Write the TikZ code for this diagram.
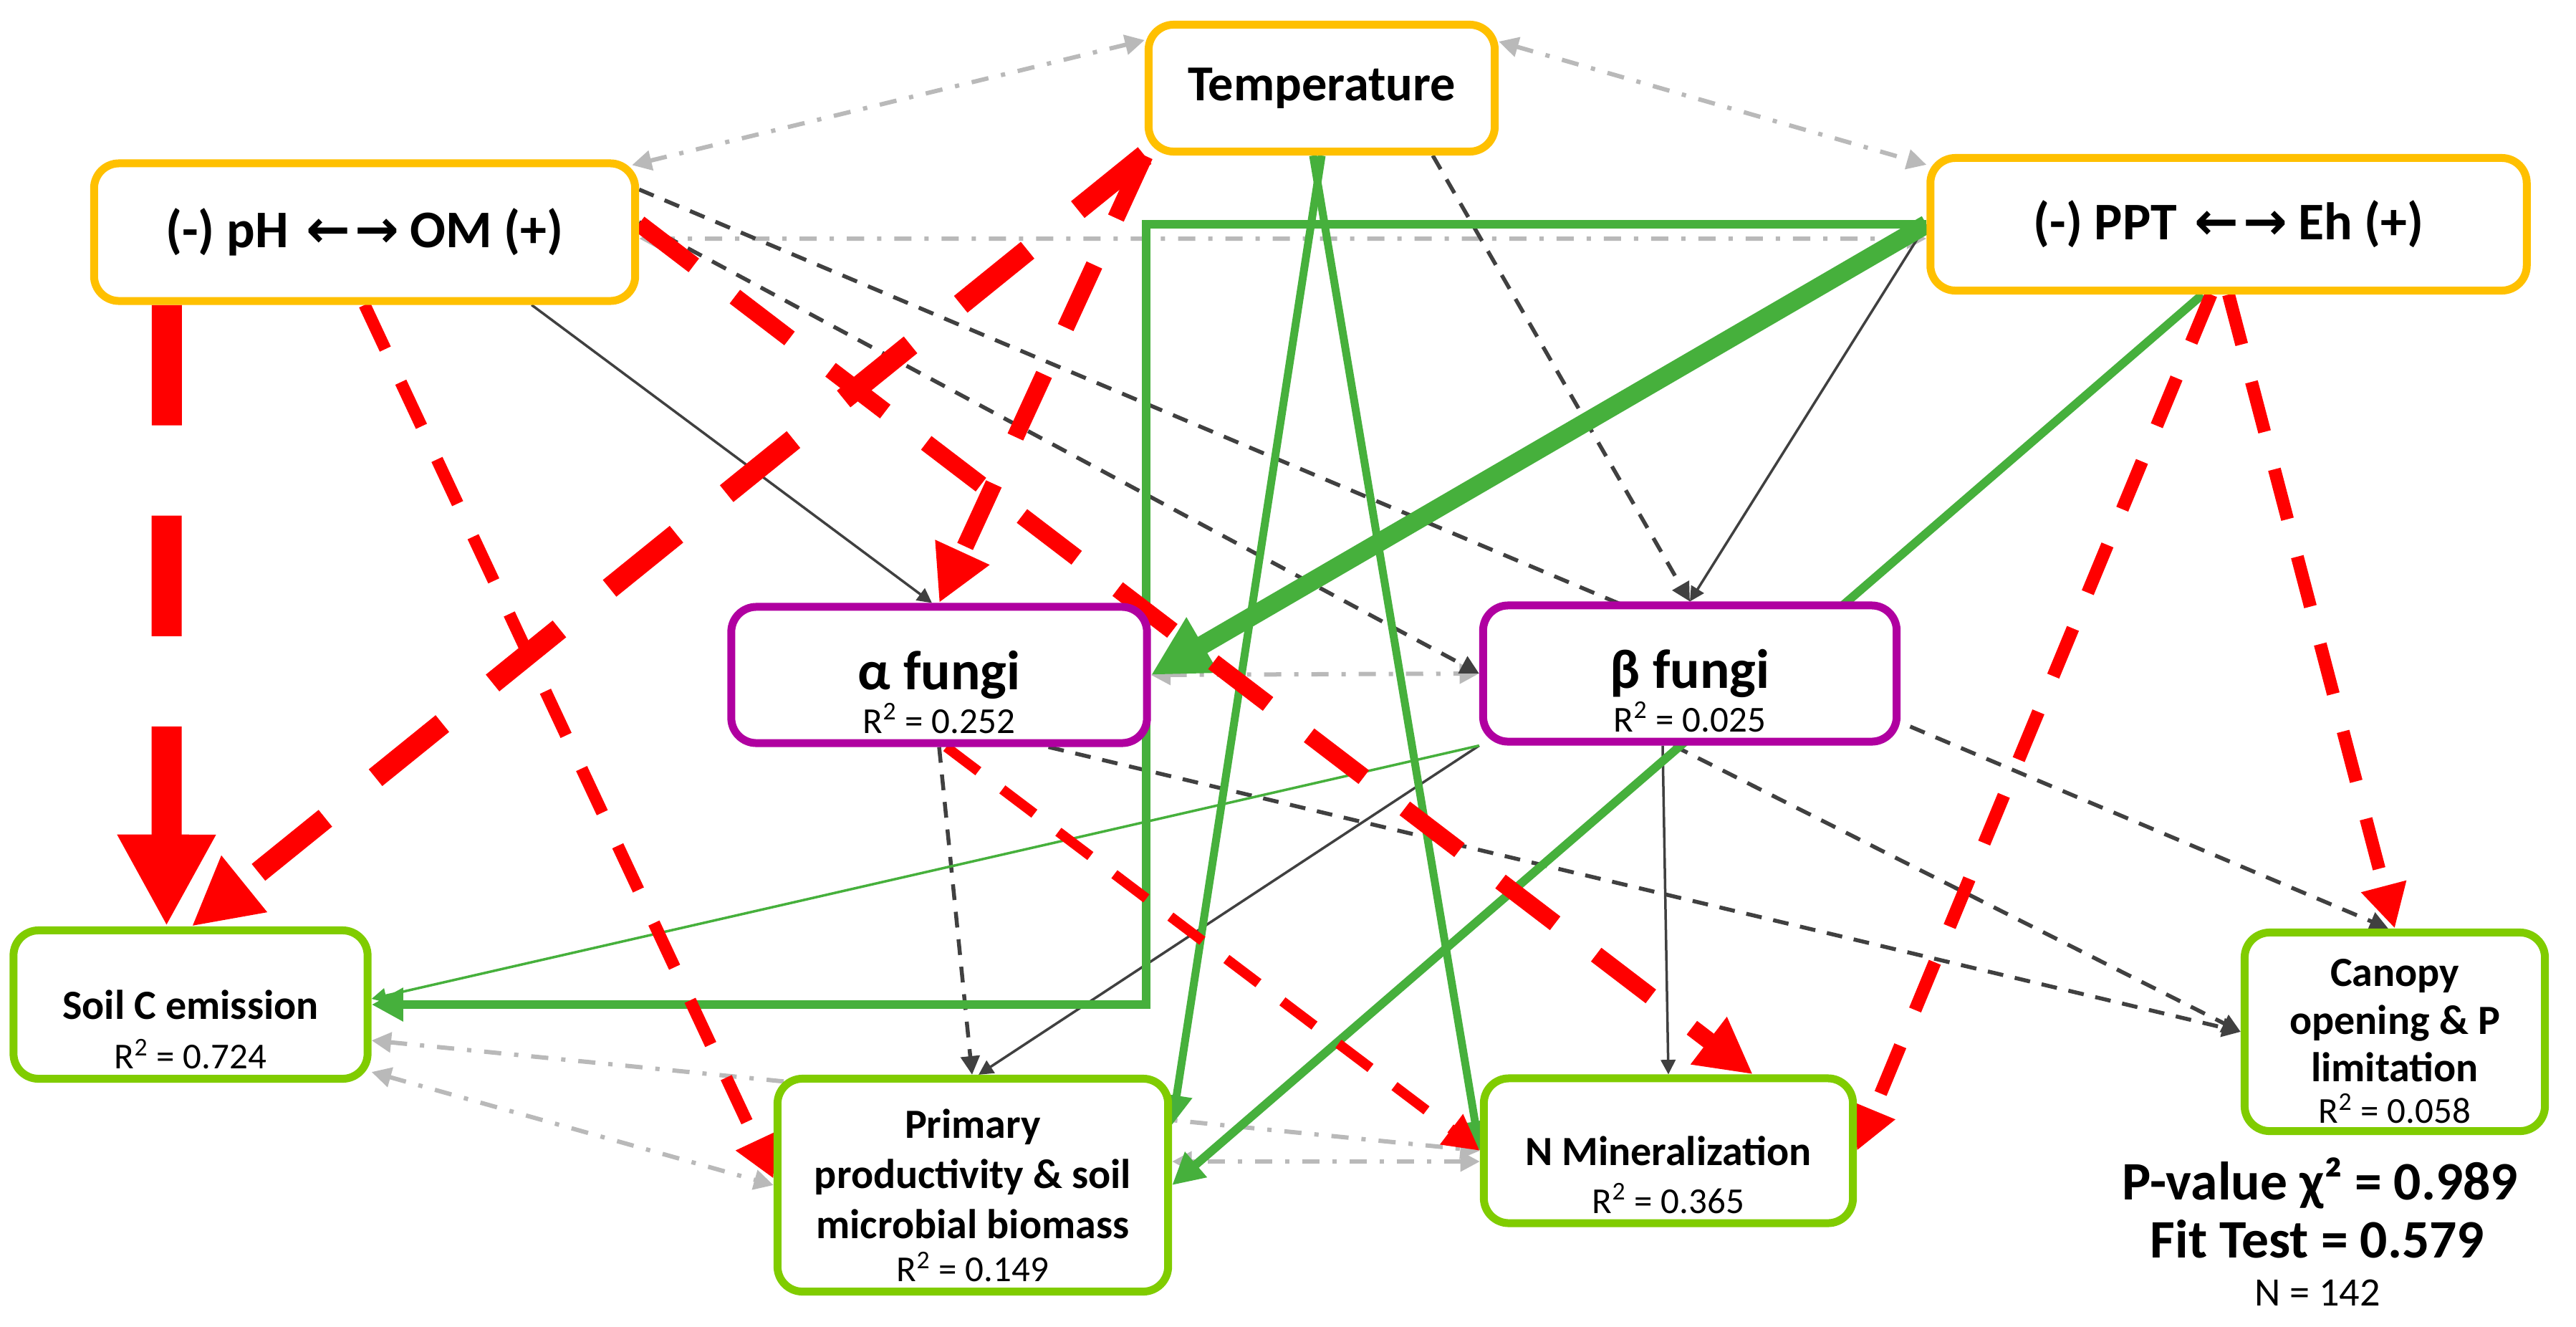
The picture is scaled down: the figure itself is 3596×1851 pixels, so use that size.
\documentclass[tikz,border=0pt]{standalone}
\usepackage{fontspec}
\setmainfont{Carlito}
\newfontfamily\arrowfont{DejaVu Sans}
\usepackage{tikz}
\usetikzlibrary{arrows.meta,positioning,backgrounds}

\definecolor{boxyellow}{RGB}{255,192,0}
\definecolor{boxpurple}{RGB}{176,0,160}
\definecolor{boxgreen}{RGB}{128,204,0}
\definecolor{posgreen}{RGB}{70,176,60}
\definecolor{negred}{RGB}{255,0,0}
\definecolor{darkline}{RGB}{64,64,64}
\definecolor{covgray}{RGB}{185,185,185}

\newcommand{\hdfont}{\bfseries\fontsize{20pt}{24pt}\selectfont}
\newcommand{\drfont}{\bfseries\fontsize{21pt}{25pt}\selectfont}
\newcommand{\fgfont}{\bfseries\fontsize{22pt}{26pt}\selectfont}
\newcommand{\pcfont}{\bfseries\fontsize{16.5pt}{19.9pt}\selectfont}
\newcommand{\rsqfont}{\fontsize{14.5pt}{17pt}\selectfont}
\newcommand{\statfont}{\bfseries\fontsize{21.5pt}{26pt}\selectfont}
\newcommand{\nobsfont}{\fontsize{16pt}{19pt}\selectfont}
\newcommand{\bothways}{\hspace{0.25cm}{\arrowfont ←\hspace{0.06cm}→}\hspace{0.15cm}}

\tikzstyle{nodebox}=[rectangle, rounded corners=0.35cm, line width=0.11cm, fill=white, align=center, inner sep=0pt]
\tikzstyle{driver}=[nodebox, draw=boxyellow, font=\drfont]
\tikzstyle{fungi}=[nodebox, draw=boxpurple, font=\fgfont]
\tikzstyle{proc}=[nodebox, draw=boxgreen, font=\pcfont]
\tikzstyle{rsq}=[inner sep=0pt, outer sep=0pt, font=\rsqfont]
\tikzset{
  negpath/.style={->, draw=negred, line width=#1, dash pattern=on 4*#1 off 3*#1},
  pospath/.style={->, draw=posgreen, line width=#1},
  nspath/.style={->, draw=darkline, line width=0.035cm},
  nsdash/.style={->, draw=darkline, line width=0.055cm, dash pattern=on 0.22cm off 0.165cm},
  covpath/.style={<->, draw=covgray, line width=0.06cm, dash pattern=on 0.24cm off 0.18cm on 0.06cm off 0.18cm}
}

\begin{document}
\begin{tikzpicture}[x=0.01cm, y=-0.01cm, >={Triangle[length=3pt 2.8,width=3pt 2.8]}]
\useasboundingbox (0,0) rectangle (3596,1851);

% drivers
\node[driver, minimum width=4.83cm, minimum height=1.77cm, font=\hdfont] (temp) at (1845,123) {Temperature};
\node[driver, minimum width=7.55cm, minimum height=1.92cm] (ph)   at (509,324)  {(-) pH\bothways OM (+)};
\node[driver, minimum width=8.32cm, minimum height=1.85cm] (ppt)  at (3111,313) {(-) PPT\bothways Eh (+)};

% fungi
\node[fungi, minimum width=5.80cm, minimum height=1.90cm] (alpha) at (1311,942) {α fungi};
\node[fungi, minimum width=5.77cm, minimum height=1.90cm] (beta)  at (2359,940) {β fungi};

% processes
\node[proc, minimum width=4.94cm, minimum height=2.07cm] (soilc)  at (266,1402)  {Soil C emission};
\node[proc, minimum width=5.45cm, minimum height=2.97cm] (prim)   at (1358,1654) {Primary\\productivity \& soil\\microbial biomass\rule[-0.32cm]{0pt}{0pt}};
\node[proc, minimum width=5.15cm, minimum height=2.02cm] (nmin)   at (2329,1606) {N Mineralization};
\node[proc, minimum width=4.19cm, minimum height=2.77cm, font=\bfseries\fontsize{16.5pt}{19pt}\selectfont] (canopy) at (3343,1440) {Canopy\\opening \& P\\limitation\rule[-0.32cm]{0pt}{0pt}};

% R2 values
\node[rsq, above=0.19cm of alpha.south]  (alphaR)  {R\textsuperscript{2} = 0.252};
\node[rsq, above=0.19cm of beta.south]   (betaR)   {R\textsuperscript{2} = 0.025};
\node[rsq, above=0.19cm of soilc.south]  (soilcR)  {R\textsuperscript{2} = 0.724};
\node[rsq, above=0.19cm of prim.south]   (primR)   {R\textsuperscript{2} = 0.149};
\node[rsq, above=0.19cm of nmin.south]   (nminR)   {R\textsuperscript{2} = 0.365};
\node[rsq, above=0.16cm of canopy.south] (canopyR) {R\textsuperscript{2} = 0.058};

% fit
\node[anchor=base, font=\statfont]  (pval) at (3239,1674) {P-value χ² = 0.989};
\node[anchor=base, font=\statfont]  (fit)  at (3235,1755) {Fit Test = 0.579};
\node[anchor=base, font=\nobsfont] (nobs) at (3235,1822) {N = 142};

\begin{scope}[on background layer]
\fill[white] (0,0) rectangle (3596,1851);
% covariances
\path ([xshift=-0.1cm,yshift=-0.08cm]ph.north east) edge[covpath] ([yshift=-0.27cm]temp.north west)
      ([yshift=-0.29cm]temp.north east) edge[covpath] ([yshift=-0.15cm]ppt.north west)
      ([yshift=-0.09cm]ph.east) edge[covpath] ([yshift=-0.2cm]ppt.west)
      (alpha.east) edge[covpath] (beta.west)
      ([yshift=-0.94cm]soilc.east) edge[covpath] (prim.west)
      ([yshift=-0.5cm]soilc.east) edge[covpath] (nmin.west)
      ([yshift=-0.15cm]nmin.west) edge[covpath] ([yshift=-0.15cm]nmin.west -| prim.east);
% non significant
\path ([xshift=6.16cm]ph.south west) edge[nspath] ([xshift=-0.1cm]alpha.north)
      ([yshift=-0.42cm]ph.north east) edge[nsdash] ([xshift=-0.09cm]canopy.north)
      ([yshift=0.14cm]ph.east) edge[nsdash] (beta.west)
      ([xshift=-0.92cm]temp.south east) edge[nsdash] (beta.north)
      (ppt.west) edge[nspath] (beta.north)
      (alpha.south) edge[nsdash] ([xshift=-0.01cm]prim.north)
      ([xshift=-1.43cm]alpha.south east) edge[nsdash] (canopy.west)
      ([xshift=-0.23cm]beta.south) edge[nsdash] (canopy.west)
      (beta.south west) edge[nspath] ([xshift=0.08cm]prim.north)
      ([xshift=-0.38cm]beta.south) edge[nspath] (nmin.north);
% positive
\draw[pospath=0.12cm] (ppt.west) -| ([xshift=-0.07cm]alpha.east) |- (soilc.east);
\path (ppt.west) edge[pospath=0.26cm] (alpha.east)
      (temp.south) edge[pospath=0.11cm] ([yshift=0.84cm]prim.east)
      ([xshift=-0.12cm]temp.south) edge[pospath=0.11cm] (nmin.west)
      ([xshift=3.85cm]ppt.south west) edge[pospath=0.12cm] (prim.east)
      (beta.south west) edge[pospath=0.035cm] ([yshift=0.08cm]soilc.east);
% negative
\path ([xshift=1.07cm]ph.south west) edge[negpath=0.42cm] ([xshift=2.19cm]soilc.north west)
      (temp.south west) edge[negpath=0.30cm] ([xshift=2.54cm]soilc.north west)
      (temp.south west) edge[negpath=0.24cm] (alpha.north)
      ([yshift=0.12cm]ph.east) edge[negpath=0.24cm] ([xshift=1.18cm]nmin.north)
      (ph.south) edge[negpath=0.17cm] ([yshift=0.09cm]prim.west)
      ([xshift=0.1cm]alpha.south) edge[negpath=0.14cm] (nmin.west)
      ([xshift=3.97cm]ppt.south west) edge[negpath=0.18cm] (nmin.east)
      (ppt.south) edge[negpath=0.18cm] (canopy.north);
\end{scope}
\end{tikzpicture}
\end{document}
